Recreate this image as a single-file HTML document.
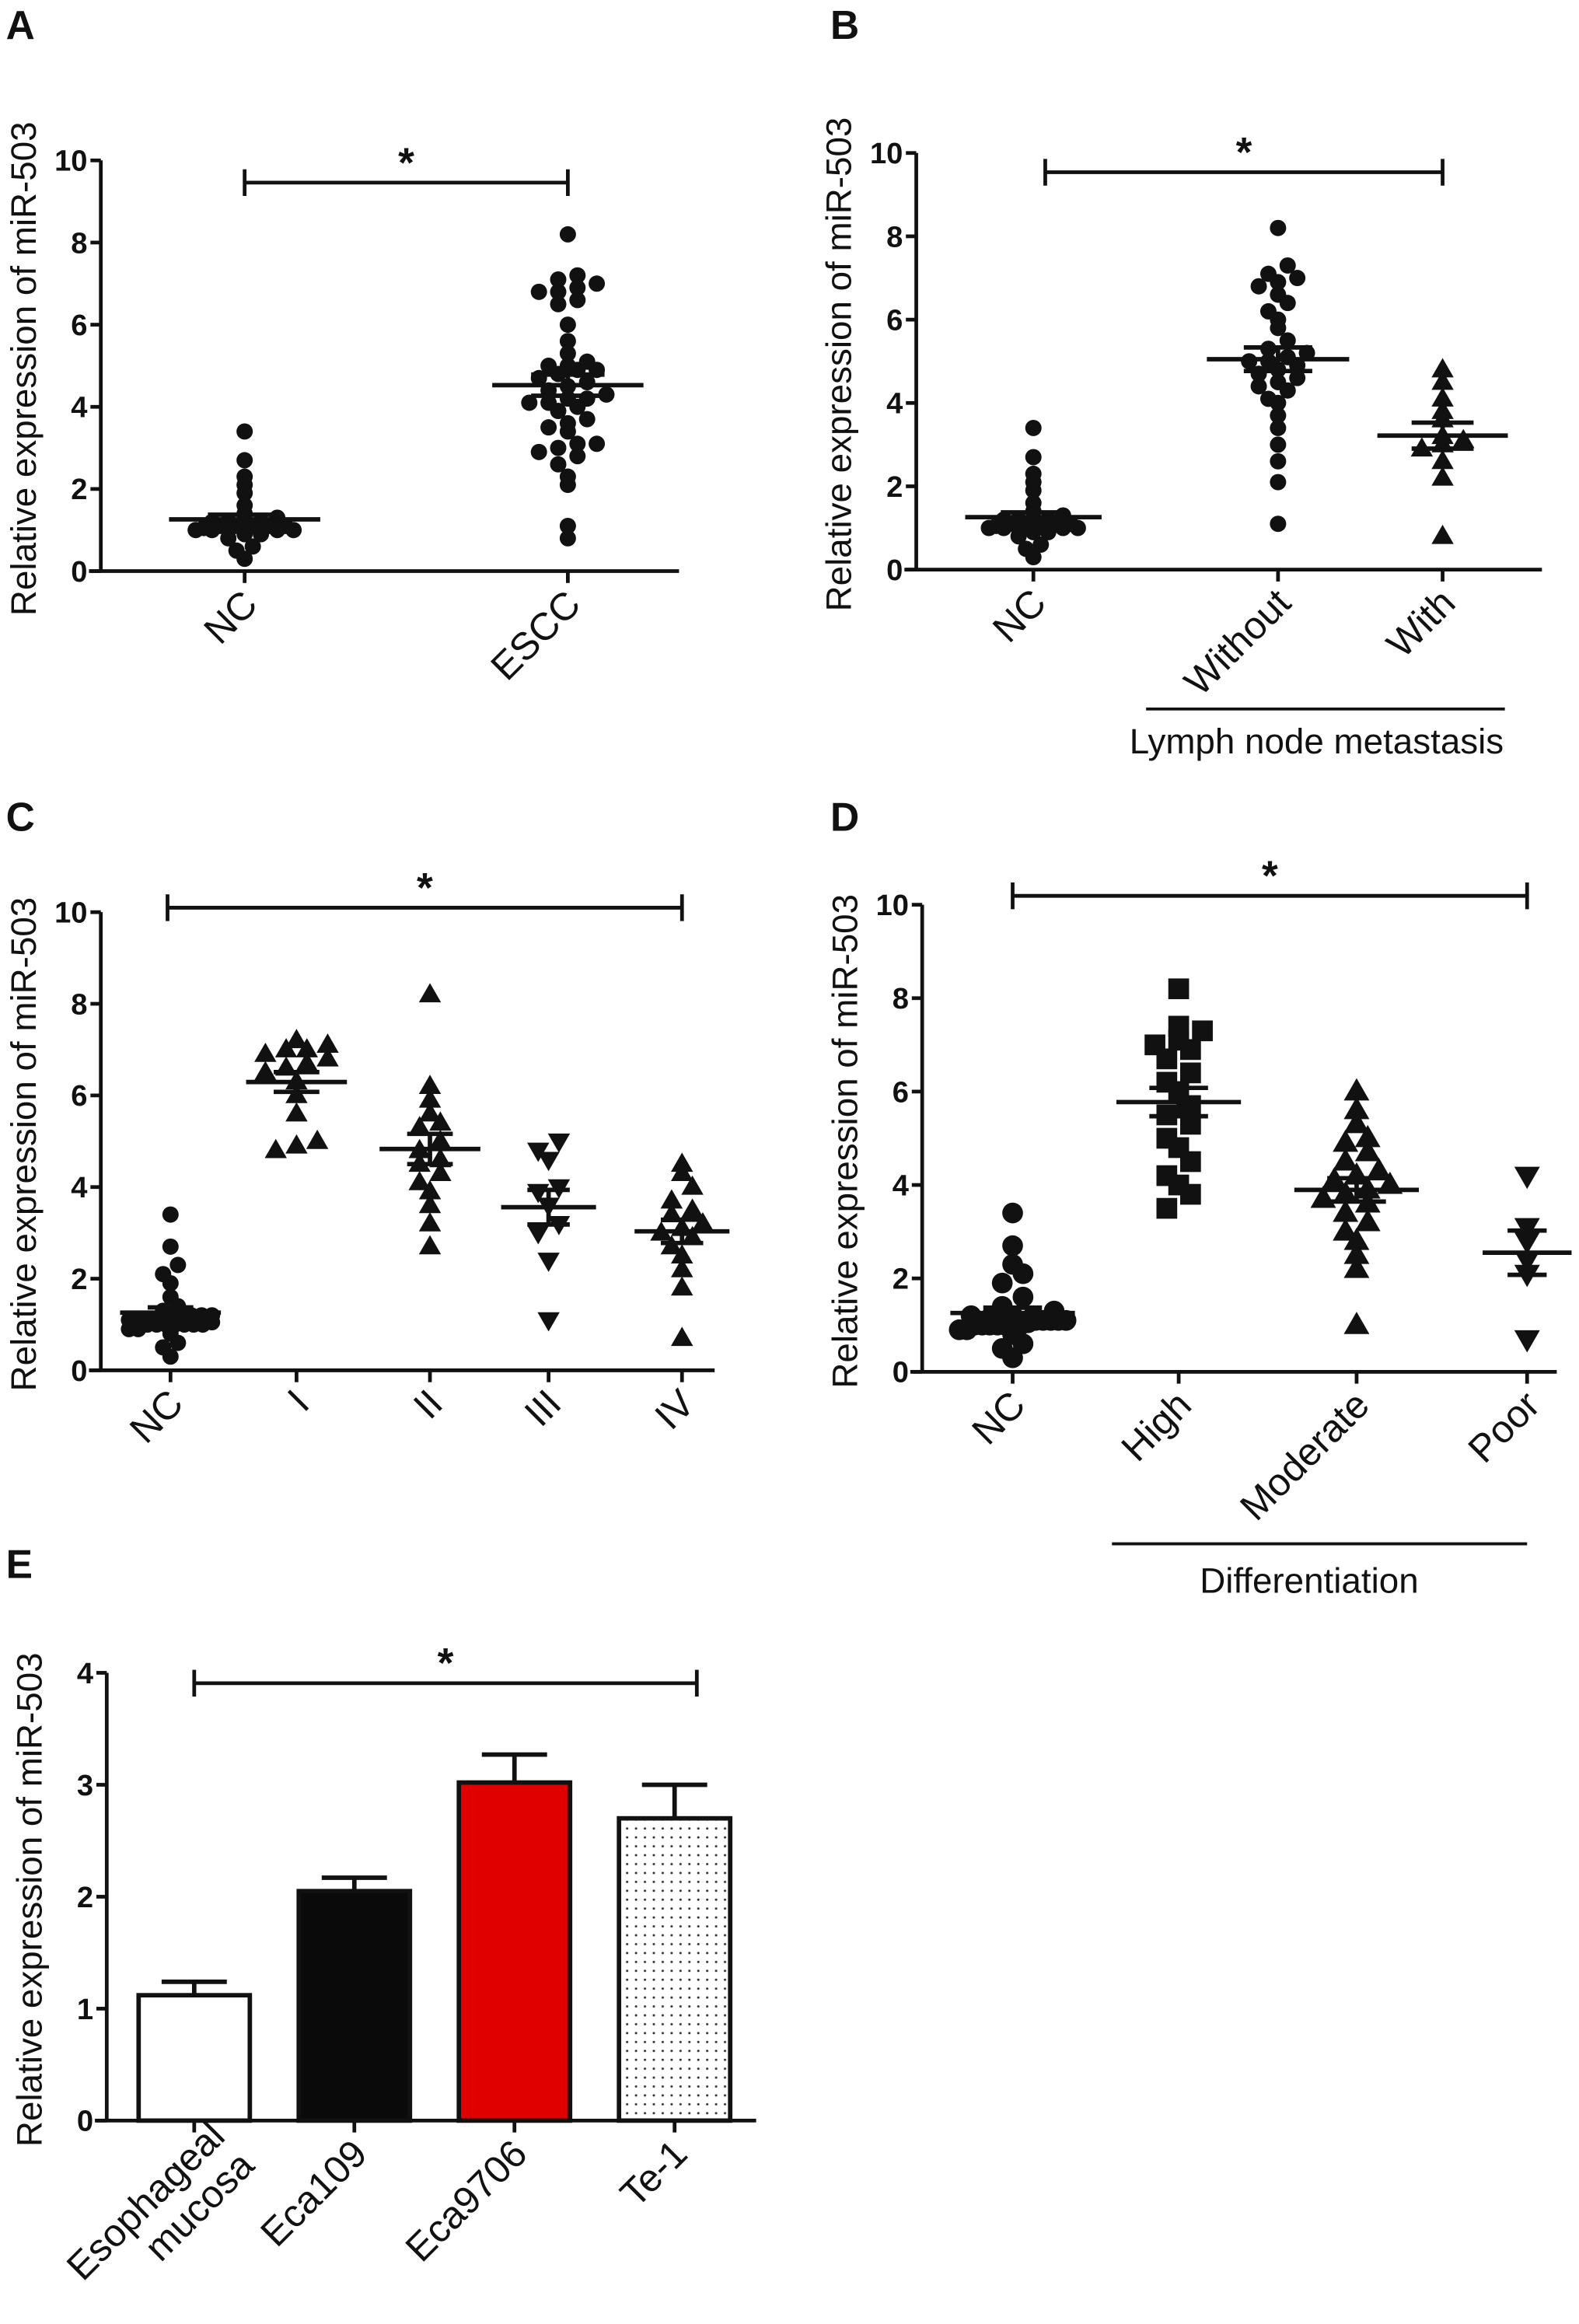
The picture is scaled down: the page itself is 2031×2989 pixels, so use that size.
<!DOCTYPE html>
<html><head><meta charset="utf-8"><style>
html,body{margin:0;padding:0;background:#fff;}
svg{display:block;font-family:"Liberation Sans",Arial,sans-serif;}
</style></head><body>
<svg id="fig" width="2031" height="2989" viewBox="0 0 1065 1567" xmlns="http://www.w3.org/2000/svg">
<defs>
<pattern id="dots" width="6" height="6" patternUnits="userSpaceOnUse"><rect width="6" height="6" fill="#fff"/><circle cx="3" cy="3" r="0.8" fill="#333"/></pattern>
</defs>
<g id="root"></g>
</svg>
<script>
// ---- data ----
const ncVals=[0.3,0.5,0.6,0.8,0.9,0.9,1.0,1.0,1.0,1.0,1.0,1.0,1.0,1.05,1.1,1.1,1.1,1.1,1.1,1.2,1.2,1.2,1.2,1.3,1.4,1.6,1.9,2.1,2.3,2.7,3.4];
const esccVals=[0.8,1.1,2.1,2.3,2.6,2.8,2.9,3.0,3.1,3.1,3.4,3.5,3.6,3.7,3.9,4.0,4.1,4.1,4.2,4.2,4.3,4.4,4.5,4.6,4.7,4.8,4.9,4.9,5.0,5.0,5.1,5.3,5.6,6.0,6.5,6.6,6.8,6.8,6.9,7.0,7.1,7.2,8.2];
const withoutVals=[1.1,2.1,2.6,3.0,3.4,3.7,4.0,4.1,4.3,4.4,4.5,4.6,4.7,4.8,4.9,5.0,5.0,5.1,5.2,5.3,5.5,5.8,6.0,6.2,6.4,6.6,6.8,6.9,7.0,7.1,7.3,8.2];
const withVals=[0.8,2.2,2.6,2.9,3.0,3.1,3.2,3.6,3.8,4.1,4.5,4.8];
const stageI=[4.8,4.9,5.0,5.6,6.0,6.3,6.5,6.6,6.7,6.8,6.9,7.0,7.0,7.1,7.2];
const stageII=[2.7,3.2,3.6,3.9,4.1,4.3,4.5,4.6,4.8,5.0,5.3,5.4,5.6,5.9,6.2,8.2];
const stageIII=[1.1,2.4,3.0,3.2,3.6,3.9,4.0,4.6,4.8,5.0];
const stageIV=[0.7,1.8,2.2,2.5,2.7,2.9,3.0,3.1,3.2,3.4,3.5,3.7,4.0,4.3,4.5];
const highVals=[3.5,3.8,4.0,4.2,4.5,4.8,5.0,5.3,5.5,5.7,6.0,6.2,6.4,6.7,6.9,7.0,7.1,7.3,7.4,8.2];
const modVals=[1.0,2.2,2.5,2.8,3.0,3.2,3.4,3.6,3.7,3.8,3.9,4.0,4.1,4.2,4.3,4.5,4.7,4.9,5.0,5.3,5.6,6.0];
const poorVals=[0.7,2.1,2.4,2.8,3.1,4.2];
const barCats=["Esophageal mucosa","Eca109","Eca9706","Te-1"];
const barVals=[1.12,2.05,3.02,2.7];
const barErr=[0.12,0.12,0.25,0.3];
const ticks10=[0,2,4,6,8,10];
const ticks4=[0,1,2,3,4];

const NS="http://www.w3.org/2000/svg";
const root=document.getElementById('root');
function mk(tag,attrs,parent){const e=document.createElementNS(NS,tag);for(const k in attrs)e.setAttribute(k,attrs[k]);(parent||root).appendChild(e);return e;}
function txt(s,attrs,parent){const e=mk('text',attrs,parent);e.textContent=s;return e;}

function axes(g,ax,y0,y1,xEnd,max,ticks,name){
  const sy=v=>y0-(y0-y1)*v/max;
  const yl=mk('line',{x1:ax,y1:sy(max),x2:ax,y2:y0,stroke:'#111','stroke-width':2.5},g);
  
  
  const xl=mk('line',{x1:ax-8,y1:y0,x2:xEnd,y2:y0,stroke:'#111','stroke-width':2.5},g);
  
  
  ticks.forEach(t=>{
    mk('line',{x1:ax-7,y1:sy(t),x2:ax,y2:sy(t),stroke:'#111','stroke-width':2.5},g);
    const tl=txt(String(t),{x:ax-9,y:sy(t)+7,'text-anchor':'end','font-size':20,'font-weight':'bold',fill:'#111'},g);
    
    
  });
  const yt=txt('Relative expression of miR-503',{transform:`translate(${ax-44},${(y0+sy(max))/2+2}) rotate(-90)`,'text-anchor':'middle','font-size':24,fill:'#111'},g);
  
  
  return sy;
}
function xlabel(g,x,y0,s,name){
  mk('line',{x1:x,y1:y0,x2:x,y2:y0+8,stroke:'#111','stroke-width':2.5},g);
  const t=txt(s,{transform:`translate(${x+10},${y0+24}) rotate(-45)`,'text-anchor':'end','font-size':26,fill:'#111'},g);
  
  
}
function marker(g,shape,x,y,s){
  if(shape==='circle')return mk('circle',{cx:x,cy:y,r:s,fill:'#111'},g);
  if(shape==='square')return mk('rect',{x:x-s,y:y-s,width:2*s,height:2*s,fill:'#111'},g);
  if(shape==='tri')return mk('polygon',{points:`${x},${y-s*1.2} ${x-s*1.15},${y+s*0.8} ${x+s*1.15},${y+s*0.8}`,fill:'#111'},g);
  return mk('polygon',{points:`${x},${y+s*1.2} ${x-s*1.15},${y-s*0.8} ${x+s*1.15},${y-s*0.8}`,fill:'#111'},g);
}
function group(g,sy,cx,vals,shape,size,name,bin,spacing,halfW){
  const sorted=vals.slice().sort((a,b)=>a-b);
  const buckets={};
  sorted.forEach(v=>{const b=Math.round(v/bin);(buckets[b]=buckets[b]||[]).push(v);});
  Object.keys(buckets).forEach(b=>{
    const arr=buckets[b];const n=arr.length;
    const sp=n>1?Math.min(spacing,2*halfW/(n-1)):0;
    arr.forEach((v,k)=>{
      const off=(k-(n-1)/2)*sp;
      const m=marker(g,shape,cx+off,sy(v),size);
      
      
    });
  });
  const n=vals.length,mean=vals.reduce((a,b)=>a+b,0)/n;
  const sd=Math.sqrt(vals.reduce((a,b)=>a+(b-mean)*(b-mean),0)/(n-1));
  const sem=sd/Math.sqrt(n);
  const ml=mk('line',{x1:cx-halfW-6,y1:sy(mean),x2:cx+halfW+6,y2:sy(mean),stroke:'#111','stroke-width':3},g);
  
  
  const e=halfW*0.55;
  [mean-sem,mean+sem].forEach(v=>mk('line',{x1:cx-e,y1:sy(v),x2:cx+e,y2:sy(v),stroke:'#111','stroke-width':3},g));
  mk('line',{x1:cx,y1:sy(mean-sem),x2:cx,y2:sy(mean+sem),stroke:'#111','stroke-width':3},g);
}
function bracket(g,x1,x2,y,name){
  const b=mk('path',{d:`M${x1},${y-9}V${y+9}M${x1},${y}H${x2}M${x2},${y-9}V${y+9}`,stroke:'#111','stroke-width':2.5,fill:'none'},g);
  
  
  const s=txt('*',{x:(x1+x2)/2,y:y-4,'text-anchor':'middle','font-size':28,'font-weight':'bold',fill:'#111'},g);
  
  
}
function panelLetter(g,s,x,y){
  const t=txt(s,{x:x,y:y,'font-size':27,'font-weight':'bold',fill:'#111'},g);
  
  
}
function panel(name){const g=mk('g',{});return g;}

// Panel A
let g=panel('panel-a');
panelLetter(g,'A',4,26);
let sy=axes(g,68,385,108,458,10,ticks10,'panel-a');
group(g,sy,165,ncVals,'circle',5.5,'nc',0.14,11,45);
group(g,sy,383,esccVals,'circle',5.5,'escc',0.3,13,45);
bracket(g,165,383,123,'panel-a');
xlabel(g,165,385,'NC','x-label-nc');
xlabel(g,383,385,'ESCC','x-label-escc');

// Panel B
g=panel('panel-b');
panelLetter(g,'B',560,26);
sy=axes(g,618,384,103,1040,10,ticks10,'panel-b');
group(g,sy,697,ncVals,'circle',5.5,'b-nc',0.14,10,40);
group(g,sy,862,withoutVals,'circle',5.5,'without',0.3,13,42);
group(g,sy,973,withVals,'tri',6.5,'with',0.3,14,38);
bracket(g,705,973,116,'panel-b');
xlabel(g,697,384,'NC','x-label-b-nc');
xlabel(g,862,384,'Without','x-label-without');
xlabel(g,973,384,'With','x-label-with');
mk('line',{x1:773,y1:478,x2:1015,y2:478,stroke:'#111','stroke-width':2},g);
let t=txt('Lymph node metastasis',{x:888,y:508,'text-anchor':'middle','font-size':24,fill:'#111'},g);



// Panel C
g=panel('panel-c');
panelLetter(g,'C',4,560);
sy=axes(g,68,924,615,482,10,ticks10,'panel-c');
group(g,sy,115,ncVals,'circle',5.5,'c-nc',0.2,10,28);
group(g,sy,200,stageI,'tri',6.5,'stage-i',0.35,14,28);
group(g,sy,290,stageII,'tri',6.5,'stage-ii',0.35,14,28);
group(g,sy,370,stageIII,'itri',6.5,'stage-iii',0.35,14,26);
group(g,sy,460,stageIV,'tri',6.5,'stage-iv',0.35,14,26);
bracket(g,113,460,612,'panel-c');
xlabel(g,115,924,'NC','x-label-c-nc');
xlabel(g,200,924,'I','x-label-i');
xlabel(g,290,924,'II','x-label-ii');
xlabel(g,370,924,'III','x-label-iii');
xlabel(g,460,924,'IV','x-label-iv');

// Panel D
g=panel('panel-d');
panelLetter(g,'D',560,560);
sy=axes(g,622,925,610,1050,10,ticks10,'panel-d');
group(g,sy,683,ncVals,'circle',7,'d-nc',0.25,14,36);
group(g,sy,795,highVals,'square',7,'high',0.4,16,36);
group(g,sy,915,modVals,'tri',7.5,'moderate',0.35,15,36);
group(g,sy,1030,poorVals,'itri',7.5,'poor',0.4,15,24);
bracket(g,683,1030,604,'panel-d');
xlabel(g,683,925,'NC','x-label-d-nc');
xlabel(g,795,925,'High','x-label-high');
xlabel(g,915,925,'Moderate','x-label-moderate');
xlabel(g,1030,925,'Poor','x-label-poor');
mk('line',{x1:750,y1:1041,x2:1030,y2:1041,stroke:'#111','stroke-width':2},g);
t=txt('Differentiation',{x:883,y:1074,'text-anchor':'middle','font-size':24,fill:'#111'},g);



// Panel E
g=panel('panel-e');
panelLetter(g,'E',4,1064);
sy=axes(g,72,1430,1128,510,4,ticks4,'panel-e');
const fills=['#fff','#0a0a0a','#e00000','url(#dots)'];
const bw=75,step=108,first=131;
barCats.forEach((c,i)=>{
  const cx=first+i*step;
  const top=sy(barVals[i]);
  const eb=mk('line',{x1:cx,y1:top,x2:cx,y2:sy(barVals[i]+barErr[i]),stroke:'#111','stroke-width':3},g);
  
  
  mk('line',{x1:cx-22,y1:sy(barVals[i]+barErr[i]),x2:cx+22,y2:sy(barVals[i]+barErr[i]),stroke:'#111','stroke-width':3},g);
  const r=mk('rect',{x:cx-bw/2,y:top,width:bw,height:1430-top,fill:fills[i],stroke:'#111','stroke-width':3},g);
  
  
  mk('line',{x1:cx,y1:1430,x2:cx,y2:1438,stroke:'#111','stroke-width':2.5},g);
});
function elabel(lines,cx,name){
  const tt=txt('',{transform:`translate(${cx+10},${1454}) rotate(-45)`,'text-anchor':'end','font-size':26,fill:'#111'},g);
  
  
  lines.forEach((l,k)=>{const sp=mk('tspan',{x:0,dy:k?28:0},tt);sp.textContent=l;});
  if(lines.length>1)tt.setAttribute('transform',`translate(${cx+22},${1442}) rotate(-45)`);
}
elabel(['Esophageal','mucosa'],first,'x-label-esophageal-mucosa');
elabel(['Eca109'],first+step,'x-label-eca109');
elabel(['Eca9706'],first+2*step,'x-label-eca9706');
elabel(['Te-1'],first+3*step,'x-label-te-1');
bracket(g,131,470,1135,'panel-e');
</script>
</body></html>
